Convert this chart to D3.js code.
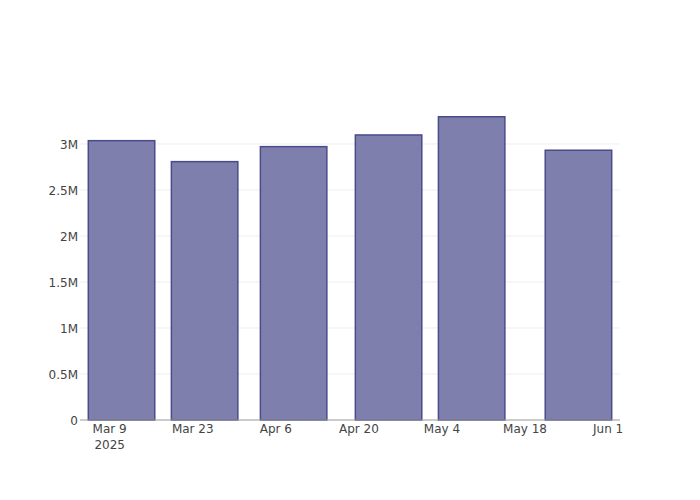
<!DOCTYPE html>
<html><head><meta charset="utf-8">
<script src="https://cdn.jsdelivr.net/npm/d3@7"></script>
<style>body{margin:0;background:#fff}svg{display:block}</style>
</head><body>
<svg id="chart" width="700" height="500"></svg>
<script>
const dates = ["2025-03-11","2025-03-25","2025-04-09","2025-04-25","2025-05-09","2025-05-27"];
const values = [3036000, 2808000, 2971000, 3098000, 3296000, 2932000];
const xTickDates = ["2025-03-09","2025-03-23","2025-04-06","2025-04-20","2025-05-04","2025-05-18","2025-06-01"];
const xTickLabels = ["Mar 9","Mar 23","Apr 6","Apr 20","May 4","May 18","Jun 1"];
const yTicks = [0, 500000, 1000000, 1500000, 2000000, 2500000, 3000000];
const yTickLabels = ["0","0.5M","1M","1.5M","2M","2.5M","3M"];

(function () {
const svg = d3.select("#chart");
const mLeft = 80, mRight = 620, mTop = 100, mBottom = 420;
const parse = d3.utcParse("%Y-%m-%d");
const x = d3.scaleUtc().domain([parse("2025-03-04"), parse("2025-06-03")]).range([mLeft, mRight]);
const y = d3.scaleLinear().domain([0, 3478000]).range([mBottom, mTop]);
const font = "'DejaVu Sans', sans-serif";

// grid
svg.append("g").selectAll("line").data(yTicks.slice(1)).join("line")
  .attr("x1", mLeft).attr("x2", mRight)
  .attr("y1", d => y(d)).attr("y2", d => y(d))
  .attr("stroke", "#eeeeee").attr("stroke-width", 1);

// bars
const halfW = 0.4 * 14 * 86400000;
svg.append("g").selectAll("rect").data(dates.map((d, i) => ({d: parse(d), v: values[i]}))).join("rect")
  .attr("x", d => x(new Date(d.d.getTime() - halfW)))
  .attr("width", d => x(new Date(d.d.getTime() + halfW)) - x(new Date(d.d.getTime() - halfW)))
  .attr("y", d => y(d.v))
  .attr("height", d => y(0) - y(d.v))
  .attr("fill", "rgb(127,127,174)")
  .attr("stroke", "rgb(75,75,140)")
  .attr("stroke-width", 1.5);

// x axis line
svg.append("line").attr("x1", mLeft).attr("x2", mRight).attr("y1", mBottom).attr("y2", mBottom)
  .attr("stroke", "#999").attr("stroke-width", 1);

// y labels
svg.append("g").selectAll("text").data(yTicks).join("text")
  .attr("x", mLeft - 2).attr("y", d => y(d)).attr("dy", "0.38em")
  .attr("text-anchor", "end").attr("font-family", font).attr("font-size", 12).attr("fill", "#444")
  .text((d, i) => yTickLabels[i]);

// x labels
const xl = svg.append("g").selectAll("text").data(xTickDates).join("text")
  .attr("x", d => x(parse(d))).attr("y", mBottom + 13)
  .attr("text-anchor", "middle").attr("font-family", font).attr("font-size", 12).attr("fill", "#444");
xl.append("tspan").attr("x", d => x(parse(d))).text((d, i) => xTickLabels[i]);
xl.filter((d, i) => i === 0).append("tspan").attr("x", d => x(parse(d))).attr("dy", 16).text("2025");
})();
</script>
</body></html>
